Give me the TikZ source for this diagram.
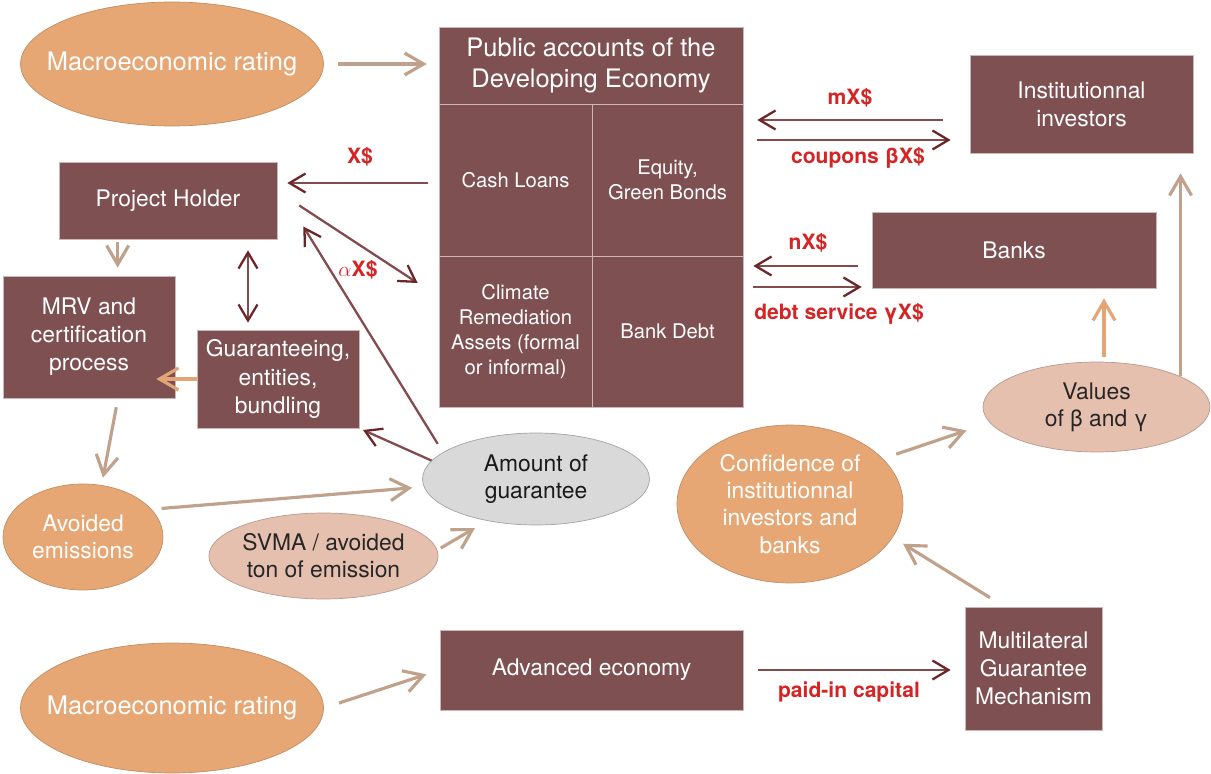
\documentclass[tikz,border=0pt]{standalone}
\usepackage{fontspec}
\setmainfont{TeX Gyre Heros}
\usetikzlibrary{shapes.geometric,arrows.meta}
\definecolor{boxred}{RGB}{127,80,82}
\definecolor{boxline}{RGB}{205,182,180}
\definecolor{ovalorange}{RGB}{230,167,117}
\definecolor{ovalpink}{RGB}{230,192,175}
\definecolor{ovalgrey}{RGB}{217,217,217}
\definecolor{flowtan}{RGB}{192,162,140}
\definecolor{floworange}{RGB}{226,166,118}
\definecolor{moneyshaft}{RGB}{132,74,76}
\definecolor{moneytip}{RGB}{108,38,40}
\definecolor{labelred}{RGB}{212,36,36}
\tikzset{
box/.style=
    {rectangle,
    fill=boxred,
    draw=boxline,
    thin,
    text=white,
    align=center,
    inner sep=0pt,
    font=\fontsize{13}{16}\selectfont
    },
cell/.style=
    {box,
    font=\fontsize{11.5}{14.2}\selectfont
    },
oval/.style=
    {ellipse,
    inner sep=0pt,
    align=center,
    thin,
    font=\fontsize{13}{15.5}\selectfont
    },
orangeoval/.style=
    {oval,
    fill=ovalorange,
    draw=ovalorange!85!black,
    text=white
    },
pinkoval/.style=
    {oval,
    fill=ovalpink,
    draw=ovalpink!80!black,
    text=black!85
    },
greyoval/.style=
    {oval,
    fill=ovalgrey,
    draw=ovalgrey!75!black,
    text=black!90
    },
wideoval/.style=
    {orangeoval,
    inner xsep=-0.4cm,
    font=\fontsize{14.5}{17}\selectfont
    },
flow/.style=
    {draw=flowtan,
    line width=1.8pt,
    -{Straight Barb[length=3.8mm,width=4.4mm]}
    },
money/.style=
    {draw=moneyshaft,
    line width=1.3pt,
    ->
    },
lbl/.style=
    {text=labelred,
    inner sep=1pt,
    font=\bfseries\fontsize{12}{14}\selectfont
    }}

\begin{document}
\begin{tikzpicture}[x=0.02cm,y=-0.02cm,
>={Straight Barb[length=3.2mm,width=3.8mm,color=moneytip]}]
\useasboundingbox (0,0) rectangle (1211,774);

\node[wideoval, minimum width=6.06cm, minimum height=2.48cm] (macrotop) at (172,64) {Macroeconomic rating};
\node[box, minimum width=6.08cm, minimum height=1.54cm, font=\fontsize{14.5}{17.6}\selectfont] (header) at (591,65.5) {Public accounts of the\\Developing Economy};
\node[cell, minimum width=3.06cm, minimum height=3.04cm] (cash) at (515.5,180) {Cash Loans};
\node[cell, minimum width=3.02cm, minimum height=3.04cm] (equity) at (667.5,180) {Equity,\\Green Bonds};
\node[cell, minimum width=3.06cm, minimum height=3.02cm] (climate) at (515.5,331.5) {Climate\\Remediation\\Assets (formal\\or informal)};
\node[cell, minimum width=3.02cm, minimum height=3.02cm] (bankdebt) at (667.5,331.5) {Bank Debt};
\node[box, minimum width=4.46cm, minimum height=1.96cm] (inst) at (1081.5,104) {Institutionnal\\investors};
\node[box, minimum width=5.68cm, minimum height=1.52cm] (banks) at (1014,250) {Banks};
\node[box, minimum width=4.36cm, minimum height=1.54cm] (holder) at (168,200.5) {Project Holder};
\node[box, minimum width=3.44cm, minimum height=2.44cm] (mrv) at (89,337) {MRV and\\certification\\process};
\node[box, minimum width=3.24cm, minimum height=1.96cm] (guar) at (278,379) {Guaranteeing,\\entities,\\bundling};
\node[orangeoval, minimum width=3.2cm, minimum height=2.12cm] (avoided) at (83,537) {Avoided\\emissions};
\node[pinkoval, minimum width=4.54cm, minimum height=1.72cm] (svma) at (323.5,556) {SVMA / avoided\\ton of emission};
\node[greyoval, minimum width=4.54cm, minimum height=1.84cm] (amount) at (536,479) {Amount of\\guarantee};
\node[orangeoval, minimum width=4.52cm, minimum height=3.16cm] (conf) at (790,504) {Confidence of\\institutionnal\\investors and\\banks};
\node[pinkoval, minimum width=4.54cm, minimum height=1.8cm] (values) at (1096.5,407) {Values\\of β and γ};
\node[box, minimum width=6.06cm, minimum height=1.6cm] (adv) at (591.5,670) {Advanced economy};
\node[box, minimum width=2.74cm, minimum height=2.46cm] (multi) at (1033.5,668.5) {Multilateral\\Guarantee\\Mechanism};
\node[wideoval, minimum width=6.06cm, minimum height=2.6cm] (macrobot) at (172,708) {Macroeconomic rating};

\node[lbl] (mlab) at (850,98) {mX\$};
\node[lbl] (clab) at (858,158) {coupons βX\$};
\node[lbl] (nlab) at (808,243) {nX\$};
\node[lbl] (dlab) at (839,314) {debt service γX\$};
\node[lbl] (xlab) at (360,157) {X\$};
\node[lbl] (alab) at (358,270) {$\alpha$X\$};
\node[lbl] (plab) at (849,692) {paid-in capital};

\coordinate (m1) at ([yshift=-0.32cm]inst.west);
\coordinate (m2) at ([yshift=-0.72cm]inst.west);
\coordinate (n1) at ([yshift=-0.32cm]banks.west);
\coordinate (n2) at ([yshift=-0.74cm]banks.west);
\coordinate (hx) at ([yshift=0.35cm]holder.east);
\coordinate (hm) at ([xshift=1.18cm]holder.south west);
\coordinate (hg) at ([xshift=-0.6cm]guar.north);
\coordinate (vb) at ([xshift=0.15cm]values.north);

\draw[flow, shorten <=0.28cm, shorten >=0.24cm] (macrotop.east) -- (macrotop.east -| header.west);
\draw[money, shorten <=0.54cm, shorten >=0.28cm] (m1) -- (m1 -| equity.east);
\draw[money, shorten <=0.28cm, shorten >=0.38cm] (m2 -| equity.east) -- (m2);
\draw[money, shorten <=0.28cm, shorten >=0.2cm] (n1) -- (n1 -| bankdebt.east);
\draw[money, shorten <=0.2cm, shorten >=0.2cm] (n2 -| bankdebt.east) -- (n2);
\draw[money, shorten <=0.22cm, shorten >=0.2cm] (hx -| cash.west) -- (hx);
\draw[money] ([xshift=0.44cm,yshift=-0.1cm]holder.east) -- ([xshift=-0.42cm,yshift=0.97cm]climate.west);
\draw[money, shorten <=0.2cm] (amount.164) -- ([xshift=0.52cm,yshift=-0.52cm]holder.east);
\draw[money, shorten >=0.08cm] (amount.170) -- (guar.south east);
\draw[money, <->, shorten <=0.22cm, shorten >=0.14cm] (hg |- holder.south) -- (hg);
\draw[flow, shorten <=0.06cm, shorten >=0.16cm] (hm) -- (hm |- mrv.north);
\draw[flow, draw=floworange, shorten >=-0.38cm] (guar.west) -- (guar.west -| mrv.east);
\draw[flow, shorten <=0.18cm] ([xshift=0.58cm]mrv.south) -- ([xshift=0.4cm,yshift=0.12cm]avoided.north);
\draw[flow, shorten <=0.2cm, shorten >=0.2cm] (avoided.22) -- ([yshift=-0.16cm]amount.west);
\draw[flow, shorten <=0.08cm] (svma.3) -- ([xshift=-1.22cm,yshift=-0.98cm]amount.center);
\draw[flow, shorten <=0.28cm, shorten >=0.34cm] (conf.26) -- ([yshift=-0.36cm]values.west);
\draw[flow, draw=floworange, shorten <=0.1cm, shorten >=0.2cm] (vb) -- (vb |- banks.south);
\draw[flow, shorten >=0.4cm] (values.20) -- (values.20 |- inst.south);
\draw[flow, shorten >=0.24cm] ([xshift=-0.87cm,yshift=0.18cm]multi.north) -- (conf.-18);
\draw[flow, shorten <=0.32cm, shorten >=0.28cm] (macrobot.east) -- (adv.west);
\draw[money, shorten <=0.3cm, shorten >=0.28cm] (adv.east) -- (adv.east -| multi.west);

\end{tikzpicture}
\end{document}
